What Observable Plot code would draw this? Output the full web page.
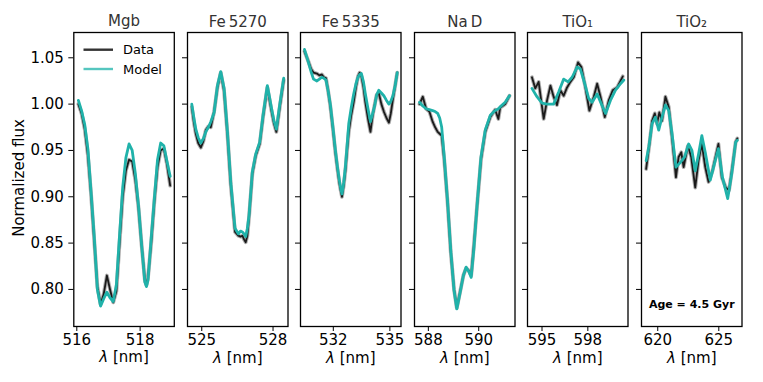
<!DOCTYPE html>
<html><head><meta charset="utf-8">
<script src="https://cdn.jsdelivr.net/npm/d3@7"></script>
<script src="https://cdn.jsdelivr.net/npm/@observablehq/plot@0.6"></script>
<style>
body{margin:0;background:#fff;}
#fig{position:relative;width:763px;height:382px;overflow:hidden;font-family:"DejaVu Sans";background:#fff;}
#fig svg{position:absolute;top:0;overflow:visible;max-width:none;}
#ylab{position:absolute;left:19px;top:178px;transform:translate(-50%,-50%) rotate(-90deg);font-size:15px;white-space:nowrap;color:#000;}
</style></head><body><div id="fig"><div id="ylab">Normalized flux</div></div>
<script>
// ---- panel titles and tick labels ----
const titles = ["Mgb", "Fe\u20095270", "Fe\u20095335", "Na\u2009D", "TiO\u2081", "TiO\u2082"];
const yTicks = [0.80, 0.85, 0.90, 0.95, 1.00, 1.05];
const xTicks = [[516, 518], [525, 528], [532, 535], [588, 590], [595, 598], [620, 625]];
const xDomains = [[515.905, 519.08], [524.40, 528.63], [530.26, 535.59], [587.45, 591.44], [594.05, 600.63], [618.67, 626.9]];

// ---- Mgb ----
const mgbWave = [516.05,516.15,516.25,516.35,516.45,516.55,516.65,516.75,516.85,516.95,517.05,517.15,517.25,517.35,517.45,517.55,517.65,517.75,517.85,517.95,518.05,518.15,518.2,518.25,518.35,518.45,518.55,518.65,518.75,518.85,518.95];
const mgbModel = [1.004,0.993,0.978,0.952,0.905,0.857,0.800,0.782,0.790,0.797,0.791,0.787,0.805,0.858,0.910,0.942,0.957,0.950,0.925,0.890,0.847,0.808,0.803,0.810,0.855,0.898,0.940,0.958,0.955,0.938,0.922];
const mgbData = [1.000,0.990,0.973,0.945,0.903,0.853,0.803,0.784,0.795,0.815,0.800,0.786,0.798,0.850,0.900,0.928,0.940,0.938,0.918,0.888,0.847,0.810,0.805,0.813,0.850,0.895,0.932,0.950,0.952,0.935,0.912];

// ---- Fe5270 ----
const fe5270Wave = [524.58,524.67,524.75,524.85,524.96,525.07,525.17,525.28,525.38,525.52,525.66,525.80,525.94,526.08,526.22,526.40,526.54,526.63,526.71,526.78,526.85,526.92,526.99,527.13,527.27,527.44,527.58,527.76,527.85,527.94,528.04,528.14,528.28,528.45];
const fe5270Model = [1.000,0.985,0.973,0.964,0.958,0.963,0.970,0.975,0.981,0.991,1.020,1.035,1.017,0.970,0.916,0.866,0.860,0.863,0.862,0.860,0.857,0.866,0.880,0.927,0.946,0.959,0.988,1.020,1.008,0.995,0.982,0.973,0.999,1.028];
const fe5270Data = [0.997,0.980,0.968,0.958,0.953,0.960,0.972,0.976,0.975,0.992,1.018,1.034,1.014,0.968,0.913,0.862,0.858,0.857,0.858,0.854,0.851,0.858,0.878,0.925,0.944,0.957,0.986,1.018,1.005,0.992,0.979,0.970,0.996,1.026];

// ---- Fe5335 ----
const fe5335Wave = [530.47,530.68,530.82,530.95,531.13,531.26,531.39,531.50,531.61,531.72,531.84,531.98,532.11,532.22,532.32,532.40,532.46,532.55,532.64,532.73,532.82,532.95,533.08,533.20,533.31,533.40,533.49,533.60,533.70,533.84,533.97,534.09,534.20,534.30,534.41,534.55,534.68,534.82,534.95,535.05,535.16,535.28,535.39];
const fe5335Model = [1.059,1.045,1.035,1.027,1.025,1.027,1.029,1.028,1.026,1.015,1.000,0.975,0.950,0.932,0.918,0.908,0.903,0.915,0.932,0.955,0.979,0.996,1.011,1.022,1.029,1.032,1.033,1.024,1.011,0.995,0.981,0.990,0.999,1.010,1.015,1.012,1.009,1.004,1.000,1.003,1.009,1.020,1.034];
const fe5335Data = [1.057,1.046,1.038,1.034,1.033,1.031,1.032,1.029,1.028,1.015,0.998,0.973,0.948,0.930,0.915,0.906,0.900,0.912,0.928,0.950,0.970,0.988,1.002,1.018,1.030,1.034,1.030,1.018,1.002,0.984,0.970,0.988,1.000,1.010,1.012,1.000,0.992,0.985,0.980,0.990,1.005,1.020,1.034];

// ---- Na D ----
const naWave = [587.65,587.78,587.91,588.04,588.17,588.27,588.37,588.45,588.53,588.63,588.76,588.89,589.02,589.13,589.25,589.39,589.50,589.61,589.70,589.80,589.94,590.09,590.26,590.46,590.65,590.78,590.85,591.05,591.22];
const naModel = [1.002,0.998,0.995,0.994,0.993,0.992,0.990,0.985,0.975,0.943,0.896,0.842,0.799,0.779,0.795,0.815,0.824,0.819,0.813,0.842,0.893,0.943,0.972,0.988,0.993,0.995,0.997,1.002,1.009];
const naData = [1.000,1.008,0.995,0.992,0.981,0.975,0.970,0.968,0.966,0.940,0.895,0.840,0.800,0.780,0.796,0.815,0.823,0.820,0.815,0.845,0.892,0.940,0.970,0.986,0.994,0.984,0.996,1.000,1.009];

// ---- TiO1 ----
const tio1ModelWave = [594.34,594.67,595.00,595.33,595.76,596.09,596.42,596.71,596.97,597.30,597.51,597.80,598.06,598.28,598.61,598.89,599.16,599.48,599.81,600.14,600.36];
const tio1Model = [1.017,1.008,1.001,1.000,1.000,1.013,1.027,1.024,1.029,1.040,1.038,1.022,1.006,1.002,1.011,1.000,0.990,1.004,1.015,1.022,1.026];
const tio1DataWave = [594.34,594.56,594.78,595.11,595.33,595.55,595.76,595.98,596.20,596.42,596.64,596.86,597.08,597.36,597.58,597.84,598.10,598.39,598.61,598.83,599.11,599.37,599.63,599.92,600.29];
const tio1Data = [1.029,1.017,1.024,0.984,1.004,1.020,1.008,0.999,1.015,1.009,1.018,1.024,1.029,1.045,1.040,1.018,0.993,1.008,1.022,1.008,0.986,1.004,1.015,1.018,1.030];

// ---- TiO2 ----
const tio2ModelWave = [619.05,619.27,619.54,619.81,620.08,620.35,620.63,620.90,621.17,621.49,621.85,622.20,622.53,622.80,623.07,623.34,623.61,623.89,624.30,624.65,624.97,625.30,625.73,626.06,626.38,626.52];
const tio2Model = [0.939,0.954,0.979,0.986,0.972,0.986,0.999,0.993,0.968,0.932,0.937,0.943,0.957,0.950,0.928,0.946,0.966,0.948,0.918,0.936,0.952,0.921,0.898,0.925,0.959,0.961];
const tio2DataWave = [619.05,619.32,619.54,619.76,619.94,620.13,620.35,620.63,620.90,621.17,621.49,621.71,621.93,622.12,622.47,622.74,623.07,623.34,623.61,623.89,624.16,624.48,624.97,625.25,625.57,625.84,626.11,626.38,626.52];
const tio2Data = [0.930,0.957,0.982,0.990,0.979,0.991,0.982,1.008,0.997,0.964,0.921,0.943,0.948,0.932,0.955,0.943,0.910,0.939,0.957,0.932,0.916,0.928,0.957,0.921,0.910,0.907,0.932,0.959,0.963];

const dataWaves = [mgbWave, fe5270Wave, fe5335Wave, naWave, tio1DataWave, tio2DataWave];
const dataFlux = [mgbData, fe5270Data, fe5335Data, naData, tio1Data, tio2Data];
const modelWaves = [mgbWave, fe5270Wave, fe5335Wave, naWave, tio1ModelWave, tio2ModelWave];
const modelFlux = [mgbModel, fe5270Model, fe5335Model, naModel, tio1Model, tio2Model];

const panelLefts = [73.3, 186.8, 300.3, 413.8, 527.3, 640.8];
const W = 100.5;
const fig = document.getElementById("fig");
const teal = "#20b2aa";
const FS = 15;

titles.forEach((title, i) => {
  const ml = i === 0 ? 73.3 : 10, mr = 18;
  const data = dataWaves[i].map((w, j) => ({w, f: dataFlux[i][j]}));
  const model = modelWaves[i].map((w, j) => ({w, f: modelFlux[i][j]}));
  const marks = [
    Plot.line(data, {x: "w", y: "f", stroke: "#8a8a8a", strokeWidth: 3.8, strokeOpacity: 0.7}),
    Plot.line(data, {x: "w", y: "f", stroke: "#1a1a1a", strokeWidth: 1.8}),
    Plot.line(model, {x: "w", y: "f", stroke: teal, strokeWidth: 2.8}),
    Plot.frame({stroke: "black", strokeWidth: 1.3}),
    Plot.text([title], {frameAnchor: "top", dy: -6, lineAnchor: "bottom", text: d => d, fontSize: FS, fill: "#333"}),
    Plot.text(["\u03bb [nm]"], {frameAnchor: "bottom", dy: 36, lineAnchor: "bottom", text: d => d, fontSize: FS, fill: "black"})
  ];
  if (i === 5) marks.push(Plot.text(["Age = 4.5 Gyr"], {frameAnchor: "bottom", dy: -19, lineAnchor: "bottom", text: d => d, fontSize: 11, fontWeight: "bold", fill: "black"}));
  const chart = Plot.plot({
    width: ml + W + mr, height: 382,
    marginLeft: ml, marginRight: mr, marginTop: 32, marginBottom: 56,
    style: {fontFamily: "DejaVu Sans", fontSize: FS + "px", color: "black", background: "transparent", overflow: "visible"},
    x: {domain: xDomains[i], ticks: xTicks[i], tickSize: 5, tickPadding: 3, tickFormat: d => String(d), label: null},
    y: {domain: [0.760, 1.0773], ticks: yTicks, tickSize: 5, tickPadding: 5, tickFormat: i === 0 ? d3.format(".2f") : () => "", label: null},
    marks
  });
  chart.setAttribute("font-size", FS);
  chart.setAttribute("font-family", "DejaVu Sans");
  chart.querySelectorAll('g[aria-label$="tick label"]').forEach(g => g.setAttribute("font-size", FS));
  chart.style.left = (panelLefts[i] - ml) + "px";
  chart.querySelectorAll("text").forEach(t => {
    if (t.textContent === "\u03bb [nm]") {
      const tgt = t.querySelector("tspan") || t;
      tgt.textContent = "";
      const a = document.createElementNS("http://www.w3.org/2000/svg", "tspan");
      a.setAttribute("font-style", "italic"); a.textContent = "\u03bb";
      const b = document.createElementNS("http://www.w3.org/2000/svg", "tspan");
      b.textContent = " [nm]";
      tgt.append(a, b);
    }
  });
  if (i === 0) {
    const g = d3.select(chart).append("g").attr("text-anchor", "start").attr("font-size", 13).attr("font-family", "DejaVu Sans");
    g.append("line").attr("x1", 83.5).attr("x2", 113).attr("y1", 49.7).attr("y2", 49.7).attr("stroke", "#333").attr("stroke-width", 2.4);
    g.append("line").attr("x1", 83.5).attr("x2", 113).attr("y1", 69).attr("y2", 69).attr("stroke", "#55c6bf").attr("stroke-width", 2.4);
    g.append("text").attr("x", 123).attr("y", 54.5).text("Data");
    g.append("text").attr("x", 123).attr("y", 74).text("Model");
  }
  fig.append(chart);
});
</script></body></html>
